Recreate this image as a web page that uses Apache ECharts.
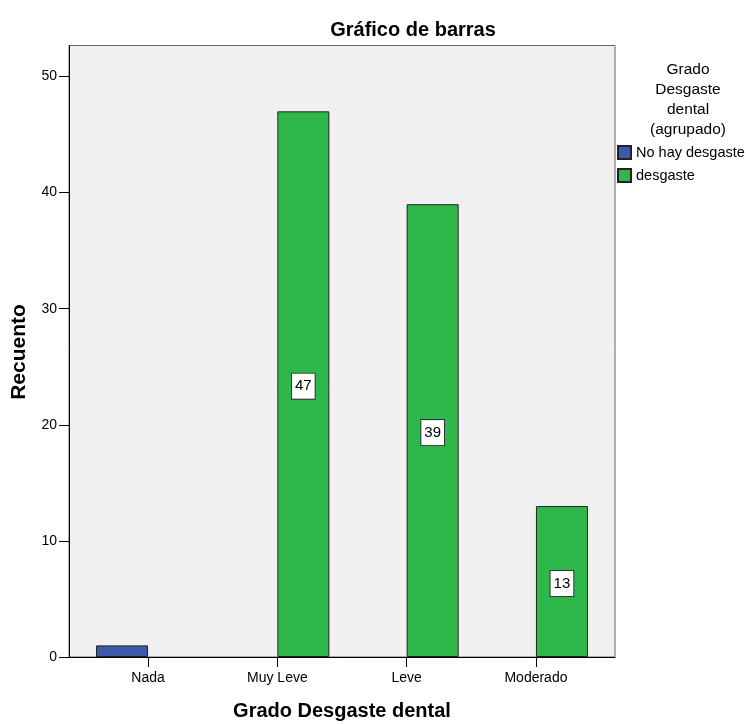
<!DOCTYPE html>
<html>
<head>
<meta charset="utf-8">
<script src="https://cdn.jsdelivr.net/npm/echarts@6/dist/echarts.min.js"></script>
<style>html,body{margin:0;padding:0;background:#fff}#c{width:746px;height:724px}</style>
</head>
<body>
<div id="c"></div>
<script>
var categories = ['Nada', 'Muy Leve', 'Leve', 'Moderado'];
var seriesNames = ['No hay desgaste', 'desgaste'];
var noHayDesgaste = [1, null, null, null];
var desgaste = [null, 47, 39, 13];
var yTicks = [0, 10, 20, 30, 40, 50];
var yMax = 52.67;

var FONT = 'Liberation Sans, Arial, sans-serif';
var chart = echarts.init(document.getElementById('c'), null, {renderer: 'canvas'});
chart.setOption({
  animation: false,
  backgroundColor: '#ffffff',
  textStyle: {fontFamily: FONT},
  title: [{
    text: 'Gráfico de barras',
    left: 408, top: 15, textAlign: 'center',
    textStyle: {fontFamily: FONT, fontSize: 20, fontWeight: 'bold', color: '#000'}
  }, {
    text: 'Grado\nDesgaste\ndental\n(agrupado)',
    left: 683, top: 55, textAlign: 'center',
    textStyle: {fontFamily: FONT, fontSize: 15.5, fontWeight: 'normal', color: '#000', lineHeight: 20}
  }],
  legend: {
    data: seriesNames,
    orient: 'vertical',
    left: 617, top: 145,
    itemWidth: 13, itemHeight: 13, itemGap: 8,
    padding: 0,
    icon: 'rect',
    textStyle: {fontFamily: FONT, fontSize: 14.5, color: '#000', lineHeight: 14}
  },
  grid: [
    {left: 69, right: 131, top: 45.5, bottom: 67, show: true, backgroundColor: '#f0f0f0', borderColor: '#666', borderWidth: 1},
    {left: 83.4, right: 145.4, top: 45.5, bottom: 67, show: false}
  ],
  xAxis: [
    {gridIndex: 0, type: 'value', min: 0, max: 1,
      axisLine: {show: true, onZero: false, lineStyle: {color: '#000', width: 1}},
      axisTick: {show: false}, axisLabel: {show: false}, splitLine: {show: false}},
    {gridIndex: 1, type: 'category', data: categories,
      axisLine: {show: false},
      axisTick: {show: true, alignWithLabel: true, length: 10, lineStyle: {color: '#000'}},
      axisLabel: {margin: 14, fontFamily: FONT, fontSize: 14, color: '#000'},
      splitLine: {show: false}}
  ],
  yAxis: [
    {gridIndex: 0, type: 'value', min: 0, max: yMax, interval: 10,
      axisLine: {show: true, lineStyle: {color: '#000', width: 1}},
      axisTick: {show: true, length: 10, lineStyle: {color: '#000'}, customValues: yTicks},
      axisLabel: {margin: 12, fontFamily: FONT, fontSize: 14, color: '#000', customValues: yTicks},
      splitLine: {show: false}},
    {gridIndex: 1, type: 'value', min: 0, max: yMax, interval: 10, show: false, splitLine: {show: false}}
  ],
  graphic: [
    {type: 'text', x: 342, y: 711, style: {text: 'Grado Desgaste dental', fontFamily: FONT, fontSize: 20, fontWeight: 'bold', fill: '#000', textAlign: 'center', textVerticalAlign: 'middle'}},
    {type: 'text', x: 19, y: 352, rotation: Math.PI / 2, style: {text: 'Recuento', fontFamily: FONT, fontSize: 21, fontWeight: 'bold', fill: '#000', textAlign: 'center', textVerticalAlign: 'middle'}}
  ],
  series: [
    {name: seriesNames[0], type: 'bar', xAxisIndex: 1, yAxisIndex: 1, data: noHayDesgaste,
      barWidth: 52, barGap: '0%',
      itemStyle: {color: '#3e58ac', borderColor: '#222', borderWidth: 1}},
    {name: seriesNames[1], type: 'bar', xAxisIndex: 1, yAxisIndex: 1, data: desgaste,
      barWidth: 52, barGap: '0%',
      itemStyle: {color: '#2eb84b', borderColor: '#222', borderWidth: 1},
      label: {show: true, position: 'inside', offset: [0, 2], fontFamily: FONT, fontSize: 15, color: '#000',
        backgroundColor: '#fff', borderColor: '#333', borderWidth: 1, padding: [6, 3, 4, 3]}}
  ]
});
</script>
</body>
</html>
